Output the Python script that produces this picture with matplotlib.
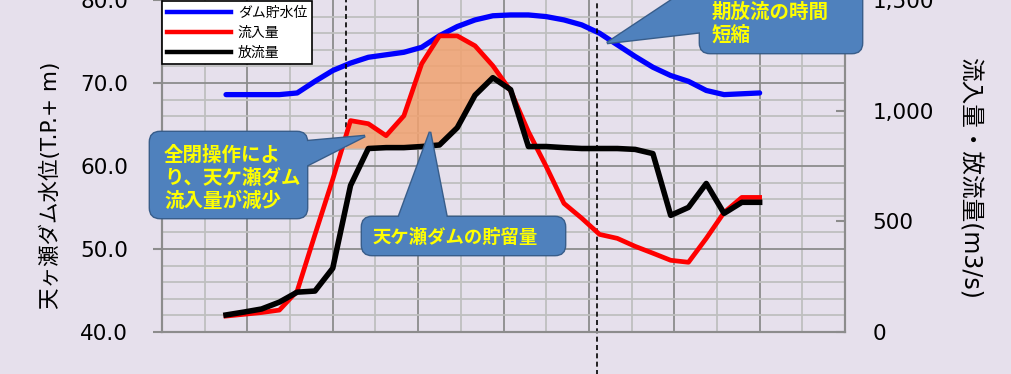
import numpy as np
import matplotlib.pyplot as plt
import matplotlib.transforms as mtransforms
from matplotlib.patches import FancyBboxPatch, Polygon
from matplotlib.lines import Line2D
from matplotlib.ticker import FixedLocator, FuncFormatter

plt.rcParams['font.family'] = ['DejaVu Sans', 'Noto Sans CJK JP']

# 時刻(1時間ごと)と各系列
hours = np.arange(31)
level = [68.6, 68.6, 68.6, 68.6, 68.8, 70.2, 71.5, 72.4, 73.1, 73.4, 73.7,
         74.3, 75.7, 76.8, 77.6, 78.1, 78.2, 78.2, 78.0, 77.6, 77.0,
         76.0, 74.6, 73.2, 71.9, 70.9, 70.2, 69.1, 68.6, 68.7, 68.8]
inflow = [72, 80, 88, 99, 185, 440, 690, 955, 941, 887, 977,
          1212, 1338, 1338, 1293, 1203, 1090, 905, 748, 581, 514,
          441, 423, 387, 356, 324, 315, 423, 540, 608, 608]
outflow = [77, 90, 104, 135, 180, 185, 288, 662, 829, 833, 833,
           838, 845, 923, 1070, 1149, 1095, 838, 838, 833, 829,
           829, 829, 825, 806, 527, 563, 671, 536, 586, 586]

# 操作の時刻
t_close = 6.75
t_release = 20.87

W, H = 1011, 374
BG = '#e6e0ec'
fig = plt.figure(figsize=(W / 100, H / 100), dpi=100, facecolor=BG)
ax = fig.add_axes([162 / W, 1 - 332 / H, (845 - 162) / W, 332 / H])
ax.set_facecolor(BG)
ax2 = ax.twinx()

xmin, xmax = -3.6, 34.8
ax.set_xlim(xmin, xmax)
ax.set_ylim(40, 80)
ax2.set_ylim(0, 1500)

# グリッド
vx = np.linspace(xmin, xmax, 17)
for k, x in enumerate(vx):
    ax.axvline(x, color='#8c8c8c' if k % 2 == 0 else '#bfbfbf', lw=1.3, zorder=0)
for v in np.arange(42, 80, 2):
    ax.axhline(v, color='#8c8c8c' if v % 10 == 0 else '#bfbfbf', lw=1.3, zorder=0)

ax.plot(hours, level, color='#0000ff', lw=3.8, solid_capstyle='round', zorder=3)

# 貯留量の塗りつぶし(全閉後の放流量の水準から上)
xf = np.linspace(t_close, 17, 400)
rf = np.interp(xf, hours, inflow)
bf = np.maximum(np.interp(xf, hours, outflow), outflow[8])
ax2.fill_between(xf, rf, bf, where=rf >= bf, interpolate=True,
                 color='#f0a270', alpha=0.85, lw=0, zorder=1)

ax2.plot(hours, inflow, color='#ff0000', lw=3.4, zorder=3)
ax2.plot(hours, outflow, color='#000000', lw=4.0, zorder=4)

ax.axvline(t_close, ymin=0.565, ymax=1, color='black', lw=1.2, ls=(0, (3, 2)), zorder=5)
ax.axvline(t_release, ymin=-0.15, ymax=1, color='black', lw=1.2, ls=(0, (3, 2)),
           zorder=5, clip_on=False)

for a in (ax, ax2):
    for s in a.spines.values():
        s.set_color('#8c8c8c')
        s.set_linewidth(1.5)
    a.spines['top'].set_visible(False)
ax.tick_params(axis='x', length=0, labelbottom=False)
ax.yaxis.set_major_locator(FixedLocator([40, 50, 60, 70, 80]))
ax.yaxis.set_major_formatter(FuncFormatter(lambda v, p: f'{v:.1f}'))
ax.tick_params(axis='y', direction='out', length=6.5, width=1.5, color='#8c8c8c',
               pad=18, labelsize=15.5)
ax2.yaxis.set_major_locator(FixedLocator([0, 500, 1000, 1500]))
ax2.yaxis.set_major_formatter(FuncFormatter(lambda v, p: f'{v:,.0f}'))
ax2.tick_params(axis='y', direction='in', length=6.5, width=1.5, color='#8c8c8c',
                pad=20, labelsize=15.5)

# 凡例
handles = [Line2D([], [], color='#0000ff', lw=3.2),
           Line2D([], [], color='#ff0000', lw=3.2),
           Line2D([], [], color='#000000', lw=3.2)]
leg = ax2.legend(handles, ['ダム貯水位', '流入量', '放流量'], loc='upper left',
                 bbox_to_anchor=(0, 0.997), borderaxespad=0, fontsize=10,
                 handlelength=4.6, handletextpad=0.5, labelspacing=0.42,
                 borderpad=0.35, fancybox=False, framealpha=1, edgecolor='black')
leg.get_frame().set_linewidth(1.2)
leg.set_zorder(10)

fig.text(50 / W, 1 - 185 / H, '天ヶ瀬ダム水位(T.P.+ m)', rotation=90,
         ha='center', va='center', fontsize=15.5)
fig.text(970 / W, 1 - 178 / H, '流入量・放流量(m3/s)', rotation=270,
         ha='center', va='center', fontsize=17)

# 吹き出し(ピクセル座標)
pxt = mtransforms.Affine2D().scale(1 / 100, -1 / 100).translate(0, H / 100) + fig.dpi_scale_trans
FC, EC, TC = '#4f81bd', '#385d8a', '#ffff00'


def callout(box, tri, lines, size):
    x0, y0, x1, y1 = box
    for fc, ec, lw, z in ((EC, EC, 2.0, 20), (FC, 'none', 0, 21)):
        fig.add_artist(FancyBboxPatch((x0, y0), x1 - x0, y1 - y0,
                                      boxstyle='round,pad=0,rounding_size=10',
                                      fc=fc, ec=ec, lw=lw, transform=pxt, zorder=z))
        fig.add_artist(Polygon(tri, closed=True, fc=fc, ec=ec, lw=lw,
                               transform=pxt, zorder=z))
    for (tx, ty, s, ha) in lines:
        fig.text(tx, ty, s, transform=pxt, ha=ha, va='center', color=TC,
                 fontsize=size, fontweight='bold', family='Noto Sans CJK JP', zorder=22)


callout((150, 132, 307, 218), [(298, 142), (298, 170), (365, 136)],
        [(164, 155, '全閉操作によ', 'left'),
         (164, 178, 'り、天ケ瀬ダム', 'left'),
         (164, 201, '流入量が減少', 'left')], 14)
callout((362, 217, 565, 255), [(398, 219), (447, 219), (430, 132)],
        [(455, 237, '天ケ瀬ダムの貯留量', 'center')], 13.2)
callout((700, -60, 862, 53), [(702, -20), (702, 32), (607, 43)],
        [(712, 12, '期放流の時間', 'left'),
         (712, 35, '短縮', 'left')], 14)

fig.savefig('out.png', dpi=100, facecolor=BG)
